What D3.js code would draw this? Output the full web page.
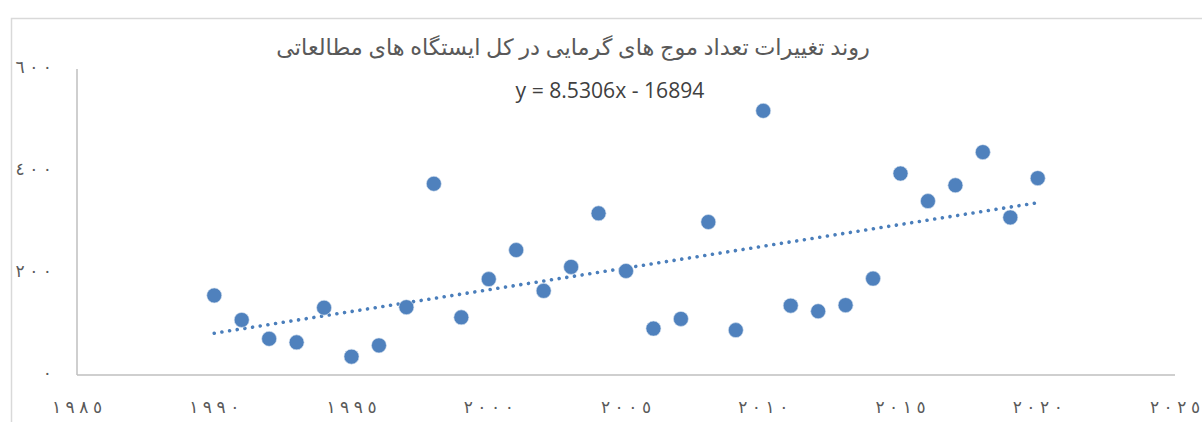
<!DOCTYPE html>
<html><head><meta charset="utf-8">
<script src="https://cdn.jsdelivr.net/npm/d3@7"></script>
<style>
html,body{margin:0;padding:0;background:#fff;overflow:hidden;}
svg{display:block;}
</style></head>
<body>
<svg id="chart" width="1202" height="422"></svg>
<script>
const title = "روند تغییرات تعداد موج های گرمایی در کل ایستگاه های مطالعاتی";
const years = [1990,1991,1992,1993,1994,1995,1996,1997,1998,1999,2000,2001,2002,2003,2004,2005,2006,2007,2008,2009,2010,2011,2012,2013,2014,2015,2016,2017,2018,2019,2020];
const values = [156,108,71,64,132,36,58,133,375,113,188,245,165,212,317,204,91,110,300,88,518,136,125,137,189,395,341,372,437,309,386];
const trendSlope = 8.5306;
const trendIntercept = -16894;
const trendLabel = "y = 8.5306x - 16894";
const xTicks = [1985,1990,1995,2000,2005,2010,2015,2020,2025];
const yTicks = [0,200,400,600];

const arabicDigits = s => String(s).replace(/[0-9]/g, d => "٠١٢٣٤٥٦٧٨٩"[+d]);

const svg = d3.select("#chart");
// chart frame
svg.append("rect").attr("x",11.5).attr("y",18.5).attr("width",1300).attr("height",500)
  .attr("fill","#fff").attr("stroke","#d9d9d9").attr("stroke-width",1.5);

const x = d3.scaleLinear().domain([1985,2025]).range([77,1175]);
const y = d3.scaleLinear().domain([0,600]).range([375,69]);

// axes lines
svg.append("line").attr("x1",x(1985)).attr("x2",x(1985)).attr("y1",y(600)).attr("y2",y(0))
  .attr("stroke","#bfbfbf").attr("stroke-width",1.5);
svg.append("line").attr("x1",x(1985)).attr("x2",x(2025)).attr("y1",y(0)).attr("y2",y(0))
  .attr("stroke","#bfbfbf").attr("stroke-width",1.5);

const tickFont = "'Times New Roman','Liberation Serif','DejaVu Sans',serif";
const tickSize = 17;
const gap = 4.5; // extra spacing between digits

function spacedLabel(sel){
  sel.each(function(d){
    const chars = Array.from(arabicDigits(d));
    d3.select(this).selectAll("tspan").data(chars).join("tspan")
      .attr("dx",(c,i)=> i===0 ? 0 : gap)
      .text(c=>c);
  });
}

// y tick labels
svg.append("g").selectAll("text").data(yTicks).join("text")
  .attr("x",52).attr("y",d=>y(d)+4)
  .attr("text-anchor","end")
  .attr("font-family",tickFont).attr("font-size",tickSize).attr("fill","#595959")
  .call(spacedLabel);
// x tick labels
svg.append("g").selectAll("text").data(xTicks).join("text")
  .attr("x",d=>x(d)).attr("y",413)
  .attr("text-anchor","middle")
  .attr("font-family",tickFont).attr("font-size",tickSize).attr("fill","#595959")
  .call(spacedLabel);

// trendline
const tx0 = d3.min(years), tx1 = d3.max(years);
svg.append("line")
  .attr("x1",x(tx0)).attr("y1",y(trendSlope*tx0+trendIntercept))
  .attr("x2",x(tx1)).attr("y2",y(trendSlope*tx1+trendIntercept))
  .attr("stroke","#4a7ebb").attr("stroke-width",3.6)
  .attr("stroke-linecap","round").attr("stroke-dasharray","0.01 7.75");

// points
svg.append("g").selectAll("circle").data(years.map((yr,i)=>[yr,values[i]])).join("circle")
  .attr("cx",d=>x(d[0])).attr("cy",d=>y(d[1])).attr("r",7.5)
  .attr("fill","#4f81bd").attr("stroke","#dce6f2").attr("stroke-width",0.6);

// title
const t = svg.append("text").attr("x",573).attr("y",55)
  .attr("text-anchor","middle").attr("direction","rtl")
  .attr("font-family","'Times New Roman','DejaVu Sans',serif").attr("font-size",22).attr("fill","#595959")
  .text(title);
let w = t.node().getComputedTextLength();
if (w>0) t.attr("font-size",22*594/w);

// equation
const e = svg.append("text").attr("x",610).attr("y",98)
  .attr("text-anchor","middle")
  .attr("font-family","'Open Sans','Liberation Sans',sans-serif").attr("font-size",17).attr("fill","#404040")
  .text(trendLabel);
w = e.node().getComputedTextLength();
if (w>0) e.attr("font-size",17*189/w);
</script>
</body></html>
